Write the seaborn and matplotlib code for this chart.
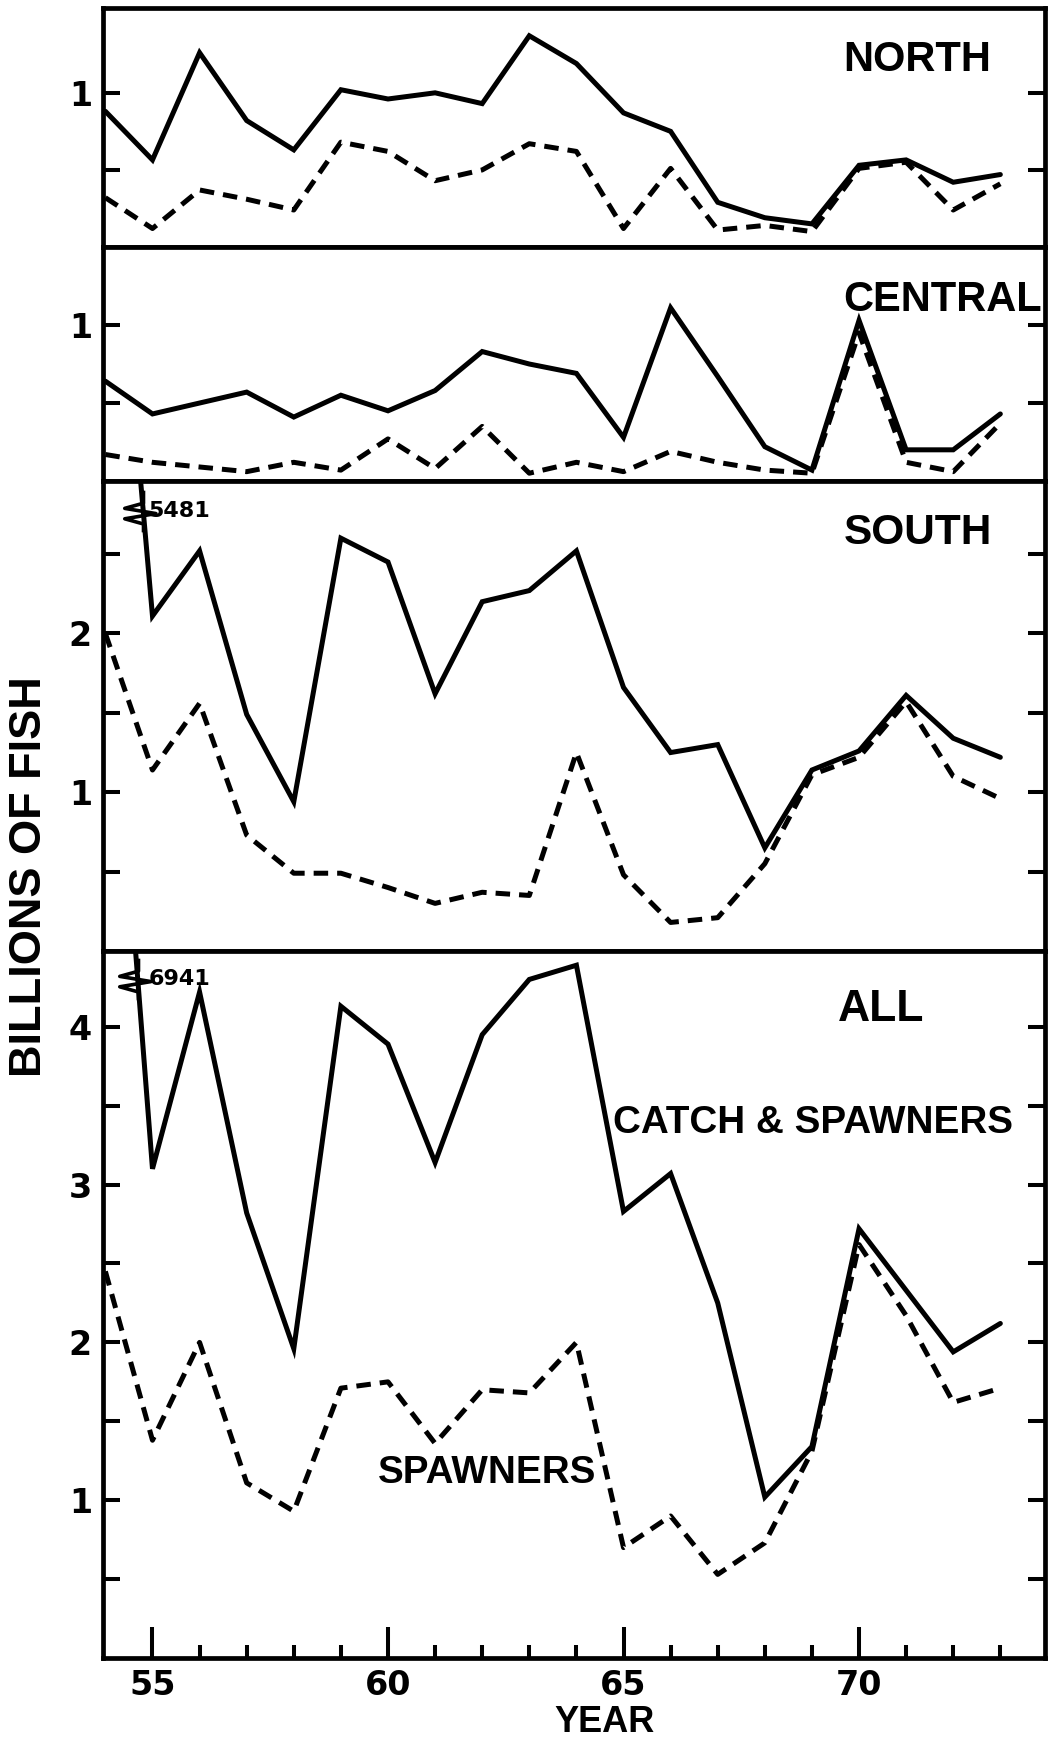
import matplotlib
matplotlib.use("Agg")
import matplotlib.pyplot as plt
from matplotlib import font_manager
from matplotlib.path import Path
from matplotlib.ticker import FixedLocator
import numpy as np
import pandas as pd
import seaborn as sns

# ---------------- data (billions of fish) ----------------
years = list(range(54, 74))

north_catch = [0.88, 0.565, 1.26, 0.82, 0.63, 1.02, 0.96, 1.00, 0.93, 1.37,
               1.19, 0.87, 0.75, 0.29, 0.19, 0.15, 0.53, 0.565, 0.42, 0.47]
north_spawn = [0.32, 0.12, 0.37, 0.31, 0.24, 0.68, 0.62, 0.43, 0.50, 0.67,
               0.62, 0.12, 0.51, 0.11, 0.14, 0.10, 0.51, 0.55, 0.24, 0.41]

central_catch = [0.64, 0.43, 0.50, 0.57, 0.41, 0.55, 0.45, 0.58, 0.83, 0.75,
                 0.69, 0.28, 1.11, 0.67, 0.22, 0.07, 1.03, 0.20, 0.20, 0.43]
central_spawn = [0.17, 0.12, 0.09, 0.06, 0.12, 0.07, 0.27, 0.08, 0.35, 0.05,
                 0.12, 0.06, 0.19, 0.12, 0.07, 0.05, 0.95, 0.12, 0.06, 0.37]

south_catch = [5.481, 2.11, 2.52, 1.49, 0.94, 2.60, 2.45, 1.62, 2.20, 2.27,
               2.52, 1.66, 1.25, 1.30, 0.65, 1.14, 1.26, 1.61, 1.34, 1.22]
south_spawn = [2.00, 1.14, 1.56, 0.73, 0.49, 0.49, 0.40, 0.30, 0.37, 0.35,
               1.25, 0.48, 0.18, 0.21, 0.55, 1.11, 1.22, 1.57, 1.10, 0.96]

all_catch = [6.941, 3.10, 4.22, 2.82, 1.96, 4.13, 3.89, 3.14, 3.95, 4.30,
             4.39, 2.83, 3.07, 2.25, 1.02, 1.34, 2.72, 2.33, 1.94, 2.12]
all_spawn = [2.45, 1.38, 2.00, 1.11, 0.93, 1.71, 1.75, 1.36, 1.70, 1.68,
             2.00, 0.70, 0.90, 0.53, 0.73, 1.31, 2.62, 2.17, 1.62, 1.71]

region_names = ["NORTH", "CENTRAL", "SOUTH", "ALL"]
catch_series = [north_catch, central_catch, south_catch, all_catch]
spawn_series = [north_spawn, central_spawn, south_spawn, all_spawn]

north_yticks = [0.5, 1.0]
central_yticks = [0.5, 1.0]
south_yticks = [0.5, 1.0, 1.5, 2.0, 2.5]
all_yticks = [0.5, 1.0, 1.5, 2.0, 2.5, 3.0, 3.5, 4.0]
ytick_sets = [north_yticks, central_yticks, south_yticks, all_yticks]

major_years = [55, 60, 65, 70]
minor_years = [56, 57, 58, 59, 61, 62, 63, 64, 66, 67, 68, 69, 71, 72, 73]
year_labels = ["55", "60", "65", "70"]

# ---------------- style ----------------
sns.set_style("ticks")
names = {f.name for f in font_manager.fontManager.ttflist}
lettering = "Liberation Sans" if "Liberation Sans" in names else "DejaVu Sans"
plt.rcParams["font.family"] = ["DejaVu Sans"]
plt.rcParams["font.weight"] = "bold"
for key in ["text.color", "axes.labelcolor", "xtick.color", "ytick.color",
            "axes.edgecolor"]:
    plt.rcParams[key] = "black"

LW = 3.6
ylims = [(0, 1.55), (0, 1.5), (0, 2.96), (0, 4.48)]
heights = [239, 234, 470, 707]

fig, axes = plt.subplots(
    4, 1, sharex=True, figsize=(10.61, 17.42), dpi=100,
    gridspec_kw=dict(height_ratios=heights))
fig.subplots_adjust(left=0.0971, right=0.985, top=0.9954, bottom=0.0482, hspace=0)

for ax, name, catch, spawn, yt, yl in zip(axes, region_names, catch_series,
                                          spawn_series, ytick_sets, ylims):
    df = pd.DataFrame({
        "year": years * 2,
        "value": catch + spawn,
        "series": ["catch"] * len(years) + ["spawners"] * len(years),
    })
    sns.lineplot(data=df, x="year", y="value", style="series",
                 dashes={"catch": "", "spawners": (2.9, 1.8)},
                 color="black", lw=LW, legend=False, ax=ax,
                 estimator=None, sort=False)
    for ln in ax.lines:
        ln.set_solid_joinstyle("miter")
    ax.set_ylim(*yl)
    ax.set_xlim(53.95, 73.95)
    ax.set_yticks(yt)
    ax.set_yticklabels([str(int(t)) if float(t).is_integer() else "" for t in yt])
    ax.tick_params(axis="y", which="both", left=True, right=True,
                   direction="in", length=12, width=2.9, pad=8,
                   labelsize=24, colors="black")
    for lab in ax.get_yticklabels():
        lab.set_fontweight("bold")
    ax.set_xlabel("")
    ax.set_ylabel("")
    for sp in ax.spines.values():
        sp.set_visible(True)
        sp.set_linewidth(3.4)
        sp.set_color("black")

# panel titles
title_pos = {"NORTH": (0.786, 0.782, 30), "CENTRAL": (0.786, 0.774, 30),
             "SOUTH": (0.786, 0.889, 30.5), "ALL": (0.780, 0.917, 32)}
for ax, name in zip(axes, region_names):
    x, y, fs = title_pos[name]
    ax.text(x, y, name, transform=ax.transAxes, ha="left", va="center",
            fontsize=fs, fontweight="bold", family=lettering)

ax_all = axes[-1]
ax_all.text(0.541, 0.757, "CATCH & SPAWNERS", transform=ax_all.transAxes,
            ha="left", va="center", fontsize=27.8, fontweight="bold",
            family=lettering)
ax_all.text(0.292, 0.262, "SPAWNERS", transform=ax_all.transAxes,
            ha="left", va="center", fontsize=27.8, fontweight="bold",
            family=lettering)

# x ticks only on bottom panel
for ax in axes[:-1]:
    ax.tick_params(axis="x", which="both", bottom=False, top=False,
                   labelbottom=False)
ax_all.xaxis.set_major_locator(FixedLocator(major_years))
ax_all.xaxis.set_minor_locator(FixedLocator(minor_years))
ax_all.set_xticklabels(year_labels)
ax_all.tick_params(axis="x", which="major", direction="in", length=22,
                   width=2.9, pad=8, labelsize=24, top=False, colors="black")
ax_all.tick_params(axis="x", which="minor", direction="in", length=9.5,
                   width=2.9, top=False, colors="black")
for lab in ax_all.get_xticklabels():
    lab.set_fontweight("bold")

# off-scale first values with break marks
zig = Path([(0, 1.0), (0, 0.4), (-0.9, 0.15), (0.6, -0.1), (-0.9, -0.35),
            (0, -0.6), (0, -1.0)])
for ax, catch, ytxt, xtxt in [(axes[2], south_catch, 2.77, 54.92),
                              (axes[3], all_catch, 4.30, 54.92)]:
    y0, y1 = catch[0], catch[1]
    xb = years[0] + (y0 - ytxt) / (y0 - y1) * (years[1] - years[0])
    ax.plot([xb], [ytxt], marker=zig, markersize=30, color="black",
            markerfacecolor="none", markeredgewidth=2.6, linestyle="none",
            clip_on=False)
    ax.text(xtxt, ytxt, f"{round(y0 * 1000)}", ha="left", va="center",
            fontsize=16, fontweight="bold")

fig.text(30 / 1061, 1 - 877 / 1742, "BILLIONS OF FISH", rotation=90,
         ha="center", va="center", fontsize=32.5, fontweight="bold",
         family=lettering)
fig.text(604 / 1061, 1 - 1722 / 1742, "YEAR", ha="center", va="center",
         fontsize=26, fontweight="bold", family=lettering)

fig.savefig("out.png", dpi=100)
